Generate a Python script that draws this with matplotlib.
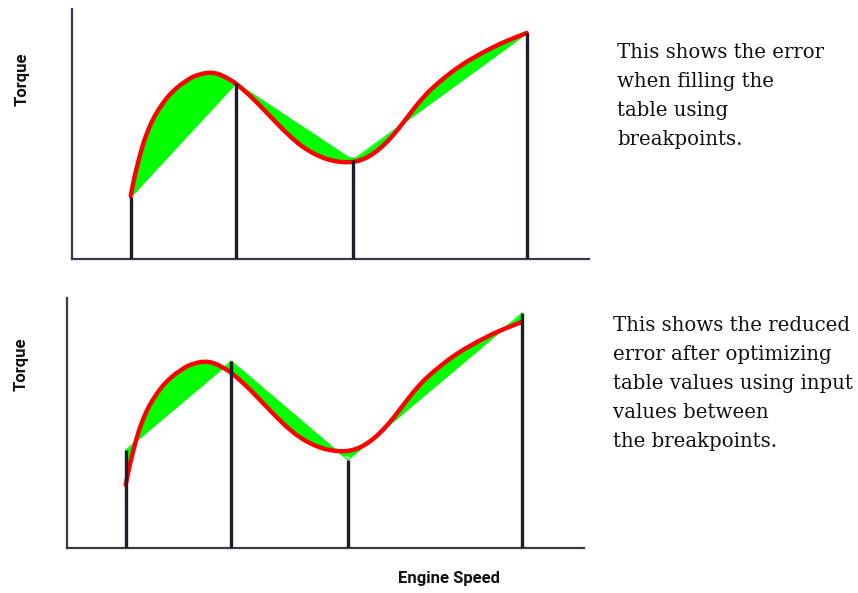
import numpy as np
import matplotlib
matplotlib.use("Agg")
import matplotlib.pyplot as plt
from matplotlib.path import Path
from matplotlib.patches import PathPatch

# ---- data (engine speed / torque, arbitrary units) ----
breakpoints = [59, 164.5, 281, 455.5]
table_filled = [62, 176, 99, 226]        # table values at breakpoints (top)
table_optimized = [98, 187, 88, 235]     # optimized table values (bottom)

curve_speed = [59, 62, 65, 70, 75, 81, 88, 96, 105, 113, 121, 128, 135, 142,
               149, 156, 164, 178, 191, 204, 217, 230, 243, 255, 266, 276,
               285, 294, 303, 312, 322, 332, 342, 352, 362, 375, 390, 405,
               420, 435, 455]
curve_torque = [63, 78, 91, 110, 125, 139, 151, 162, 171, 177, 182, 184.5,
                186, 186, 184, 180.5, 175.5, 163.5, 150.5, 137, 124, 113, 105,
                100, 97.5, 96.8, 97.8, 101, 106.5, 114, 124.5, 137, 150, 162,
                172, 183, 194, 203, 211, 218, 226]

texts_top = ["This shows the error", "when filling the", "table using",
             "breakpoints."]
texts_bottom = ["This shows the reduced", "error after optimizing",
                "table values using input", "values between",
                "the breakpoints."]

W, H = 858, 593
fig = plt.figure(figsize=(W / 100, H / 100), dpi=100)


def px_axes(left, top, right, bottom):
    return fig.add_axes([left / W, 1 - bottom / H, (right - left) / W,
                         (bottom - top) / H])


def smooth_path(xs, ys):
    """Smooth path through the read points (Catmull-Rom as cubic Beziers)."""
    p = np.column_stack([xs, ys]).astype(float)
    verts = [p[0]]
    codes = [Path.MOVETO]
    n = len(p)
    for i in range(n - 1):
        p0 = p[i - 1] if i > 0 else p[i]
        p1, p2 = p[i], p[i + 1]
        p3 = p[i + 2] if i + 2 < n else p[i + 1]
        c1 = p1 + (p2 - p0) / 6.0
        c2 = p2 - (p3 - p1) / 6.0
        verts += [c1, c2, p2]
        codes += [Path.CURVE4] * 3
    return Path(verts, codes)


ax_top = px_axes(71.7, 9, 589, 259)
ax_bot = px_axes(66.7, 298, 584, 548)

cx = np.array(curve_speed, dtype=float)
cy = np.array(curve_torque, dtype=float)

for ax, table in ((ax_top, table_filled), (ax_bot, table_optimized)):
    lin = np.interp(cx, breakpoints, table)
    ax.fill_between(cx, cy, lin, color="#00ff00", linewidth=0, zorder=1)
    ax.plot(breakpoints, table, color="#00ff00", lw=0.8, zorder=1)
    ax.add_patch(PathPatch(smooth_path(cx, cy), facecolor="none",
                           edgecolor="#ff0000", lw=3.2, capstyle="round",
                           joinstyle="round", zorder=3))
    ax.vlines(breakpoints, 0, table, color="#1c1c2a", lw=2.4, zorder=4)
    ax.set_xlim(0, 517.3)
    ax.set_ylim(0, 250)
    ax.set_xticks([])
    ax.set_yticks([])
    for s in ("top", "right"):
        ax.spines[s].set_visible(False)
    for s in ("left", "bottom"):
        ax.spines[s].set_color("#3a3a48")
        ax.spines[s].set_linewidth(1.6)
    ax.patch.set_alpha(0)

label_font = dict(family=["Roboto", "Liberation Sans", "DejaVu Sans"],
                  fontweight="bold", fontsize=12, color="#111111")
fig.text(22 / W, 1 - 79 / H, "Torque", rotation=90, ha="center", va="center",
         **label_font)
fig.text(21 / W, 1 - 364 / H, "Torque", rotation=90, ha="center", va="center",
         **label_font)
fig.text(449 / W, 1 - 578 / H, "Engine Speed", ha="center", va="center",
         **label_font)

serif = dict(family=["DejaVu Serif", "Liberation Serif"], fontsize=14.2,
             color="#111111")
for i, line in enumerate(texts_top):
    fig.text(617 / W, 1 - (58 + 29 * i) / H, line, ha="left",
             va="baseline", **serif)
for i, line in enumerate(texts_bottom):
    fig.text(613 / W, 1 - (331 + 29 * i) / H, line, ha="left",
             va="baseline", **serif)

fig.savefig("out.png", dpi=100, facecolor="white")
